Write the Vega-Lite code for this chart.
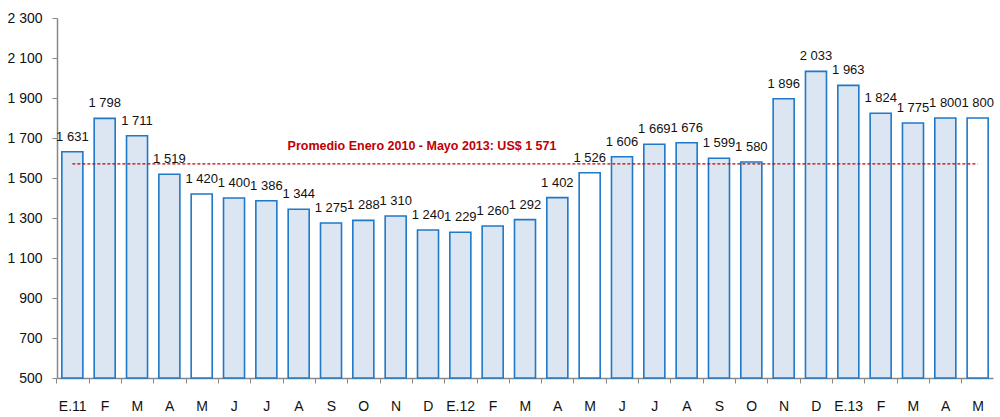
{
  "$schema": "https://vega.github.io/schema/vega-lite/v6.json",
  "width": 936,
  "height": 360,
  "autosize": {"type": "none"},
  "padding": {"left": 57, "top": 18, "right": 7, "bottom": 39},
  "background": "white",
  "config": {
    "font": "Liberation Sans",
    "view": {"stroke": null}
  },
  "data": {
    "values": [
      {"mes": "Ene 11", "valor": 1631},
      {"mes": "Feb 11", "valor": 1798},
      {"mes": "Mar 11", "valor": 1711},
      {"mes": "Abr 11", "valor": 1519},
      {"mes": "May 11", "valor": 1420},
      {"mes": "Jun 11", "valor": 1400},
      {"mes": "Jul 11", "valor": 1386},
      {"mes": "Ago 11", "valor": 1344},
      {"mes": "Set 11", "valor": 1275},
      {"mes": "Oct 11", "valor": 1288},
      {"mes": "Nov 11", "valor": 1310},
      {"mes": "Dic 11", "valor": 1240},
      {"mes": "Ene 12", "valor": 1229},
      {"mes": "Feb 12", "valor": 1260},
      {"mes": "Mar 12", "valor": 1292},
      {"mes": "Abr 12", "valor": 1402},
      {"mes": "May 12", "valor": 1526},
      {"mes": "Jun 12", "valor": 1606},
      {"mes": "Jul 12", "valor": 1669},
      {"mes": "Ago 12", "valor": 1676},
      {"mes": "Set 12", "valor": 1599},
      {"mes": "Oct 12", "valor": 1580},
      {"mes": "Nov 12", "valor": 1896},
      {"mes": "Dic 12", "valor": 2033},
      {"mes": "Ene 13", "valor": 1963},
      {"mes": "Feb 13", "valor": 1824},
      {"mes": "Mar 13", "valor": 1775},
      {"mes": "Abr 13", "valor": 1800},
      {"mes": "May 13", "valor": 1800}
    ]
  },
  "encoding": {
    "x": {
      "field": "mes", "type": "nominal", "sort": null,
      "scale": {"paddingInner": 0.35, "paddingOuter": 0.15},
      "axis": {
        "title": null, "labelAngle": 0,
        "bandPosition": 0, "tickOffset": -5.66, "labelOffset": 5.5,
        "labelExpr": "indexof(datum.value,'Ene')==0 ? 'E.' + substring(datum.value,4,6) : substring(datum.value,0,1)",
        "labelFontSize": 14, "labelColor": "#111", "labelPadding": 16,
        "domainColor": "#888", "domainWidth": 1.5, "tickColor": "#888", "tickSize": 5
      }
    },
    "y": {
      "field": "valor", "type": "quantitative",
      "scale": {"domain": [500, 2300], "zero": false, "nice": false},
      "axis": {
        "title": null, "values": [500, 700, 900, 1100, 1300, 1500, 1700, 1900, 2100, 2300],
        "labelOverlap": false,
        "labelExpr": "replace(format(datum.value, ',d'), ',', ' ')",
        "grid": false, "labelFontSize": 14, "labelColor": "#111",
        "labelPadding": 10, "domainColor": "#888", "domainWidth": 1.5, "tickColor": "#888", "tickSize": 5
      }
    }
  },
  "layer": [
    {
      "mark": {"type": "bar", "stroke": "#1f78c8", "strokeWidth": 1.6},
      "encoding": {
        "y2": {"datum": 500},
        "fill": {
          "condition": {"test": "indexof(datum.mes,'May')==0", "value": "#ffffff"},
          "value": "#dce6f2"
        }
      }
    },
    {
      "mark": {"type": "text", "baseline": "alphabetic", "dy": -11, "fontSize": 13, "color": "#111"},
      "encoding": {
        "text": {"value": {"expr": "replace(format(datum.valor, ',d'), ',', ' ')"}}
      }
    },
    {
      "transform": [{"filter": "datum.mes == 'Ene 11'"}],
      "mark": {"type": "rule", "color": "#c00000", "strokeDash": [3, 2], "strokeWidth": 1.2},
      "encoding": {
        "x": {"datum": "Ene 11"},
        "x2": {"datum": "May 13"},
        "y": {"datum": 1571}
      }
    },
    {
      "transform": [{"filter": "datum.mes == 'Ene 11'"}],
      "mark": {"type": "text", "color": "#c00000", "fontWeight": "bold", "fontSize": 12.5, "baseline": "middle", "dy": -18, "dx": -6, "text": "Promedio Enero 2010 - Mayo 2013: US$ 1 571"},
      "encoding": {
        "x": {"datum": "Dic 11"},
        "y": {"datum": 1571}
      }
    }
  ]
}
